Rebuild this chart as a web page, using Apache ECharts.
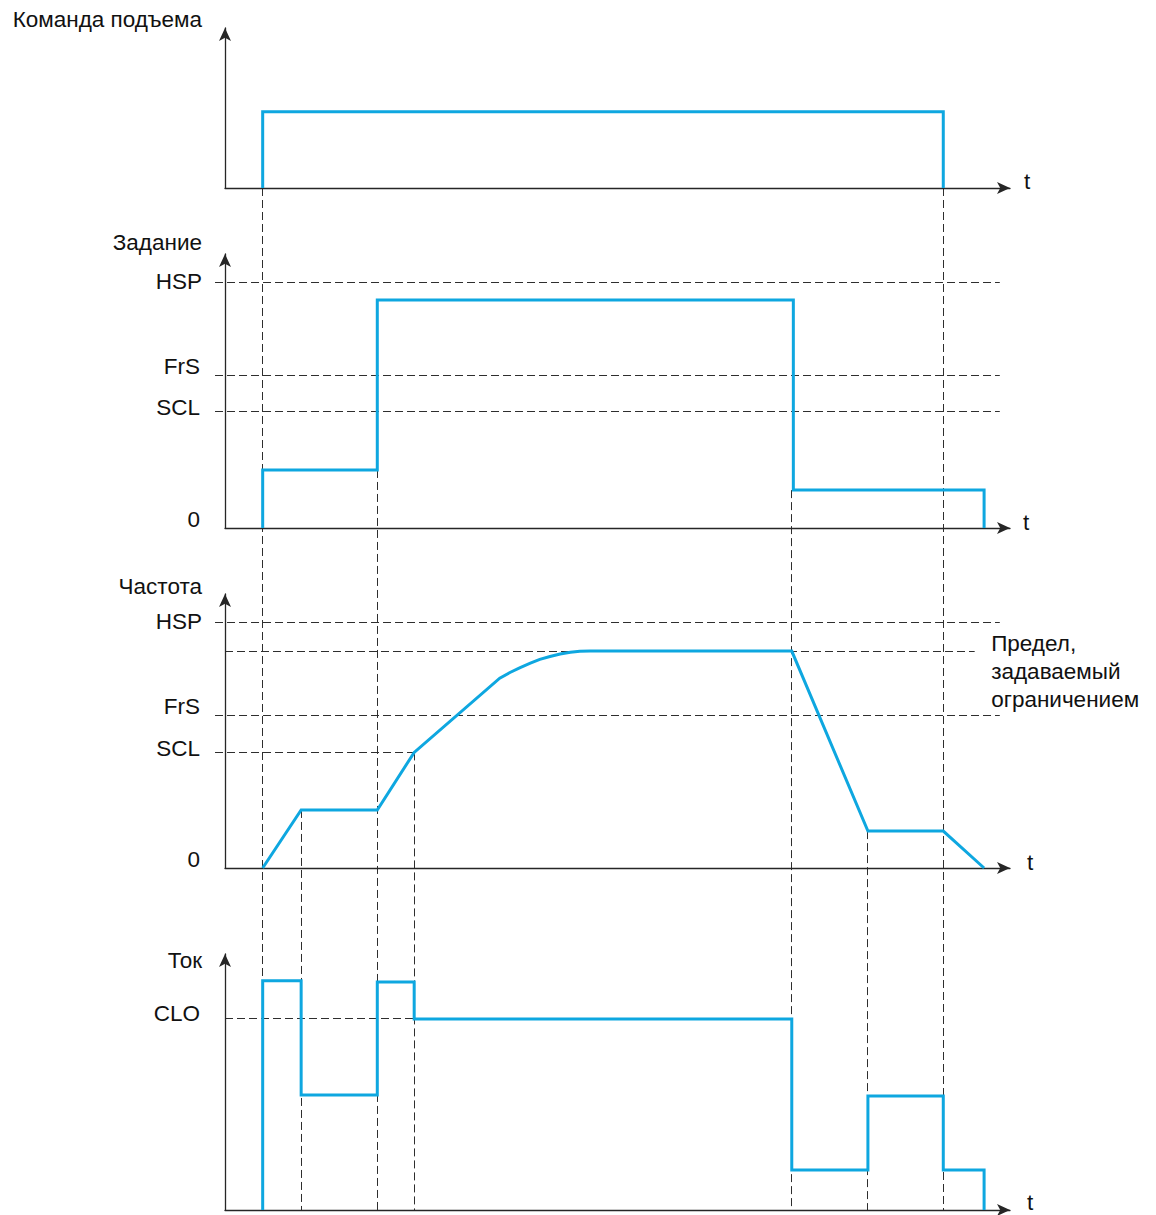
<!DOCTYPE html>
<html><head><meta charset="utf-8">
<script src="https://cdn.jsdelivr.net/npm/echarts@6/dist/echarts.min.js"></script>
<style>html,body{margin:0;padding:0;background:#fff}#chart{width:1156px;height:1215px}</style>
</head><body><div id="chart"></div>
<script>
// ---------- data (time in arbitrary units 0..100, levels in % of HSP / CLO) ----------
const panelTitles = ['Команда подъема', 'Задание', 'Частота', 'Ток'];
const axisEndName = 't';

// Panel 1: lift command
const liftT = [4.8, 4.8, 91.5, 91.5];
const liftV = [0, 1, 1, 0];

// Panel 2: reference
const refLevelNames = ['HSP', 'FrS', 'SCL', '0'];
const refLevelValues = [100, 61.8, 47.2, 0];
const refT = [4.8, 4.8, 19.4, 19.4, 72.4, 72.4, 96.7, 96.7];
const refV = [0, 23.6, 23.6, 92.7, 92.7, 15.4, 15.4, 0];

// Panel 3: frequency
const freqLevelNames = ['HSP', 'FrS', 'SCL', '0'];
const freqLevelValues = [100, 61.8, 47, 0];
const limitValue = 88.2;
const limitText = ['Предел,', 'задаваемый', 'ограничением'];
const freqT = [4.8, 9.7, 19.4, 24.1, 35.0, 36.3, 37.6, 38.9, 40.1, 41.4, 42.7, 44.0, 45.2, 46.5, 72.2, 81.9, 91.5, 96.7];
const freqV = [0, 23.6, 23.6, 47, 77.2, 79.5, 81.5, 83.3, 84.8, 86.0, 87.0, 87.7, 88.1, 88.2, 88.2, 15.0, 15.0, 0];

// Panel 4: current
const currLevelNames = ['CLO'];
const currLevelValues = [100];
const currT = [4.8, 4.8, 9.7, 9.7, 19.4, 19.4, 24.1, 24.1, 72.2, 72.2, 81.9, 81.9, 91.5, 91.5, 96.7, 96.7];
const currV = [0, 120, 120, 60.2, 60.2, 119.4, 119.4, 100, 100, 20.9, 20.9, 59.7, 59.7, 20.9, 20.9, 0];

// vertical guide lines: time, panel where it starts, value where it starts
const guideT = [4.8, 91.5, 19.4, 72.2, 9.7, 24.1, 81.9];
const guidePanel = [0, 0, 1, 1, 2, 2, 2];
const guideV = [0, 0, 23.6, 15.4, 23.6, 47, 15.0];

// horizontal guide lines: panel, value, start time, end time
const hPanel = [1, 1, 1, 2, 2, 2, 2, 3];
const hValue = [100, 61.8, 47.2, 100, 88.2, 61.8, 47, 100];
const hStart = [-1.27, -1.27, -1.27, -1.27, 0, -1.27, -1.27, 0];
const hEnd = [98.7, 98.7, 98.7, 98.7, 95.5, 98.7, 24.1, 72.2];

// ---------- layout / style ----------
const BLUE = '#0ea7e0';
const AX = '#262626';
const DASH = '#2e2e2e';
const FONT = '"Liberation Sans", Arial, Helvetica, sans-serif';
const FS = 22.5;
const grids = [
  {left: 225, right: 146, top: 28, bottom: 1027},
  {left: 225, right: 146, top: 254, bottom: 687},
  {left: 225, right: 146, top: 594, bottom: 347},
  {left: 225, right: 146, top: 954, bottom: 5}
];
const yMax = [2.1, 111.4, 111.4, 134];

const chart = echarts.init(document.getElementById('chart'), null, {renderer: 'svg'});

function zip(t, v) { return t.map((x, i) => [x, v[i]]); }

const xAxes = grids.map((g, i) => ({
  type: 'value', gridIndex: i, min: 0, max: 100,
  axisLine: {show: true, onZero: false, symbol: ['none', 'arrow'], symbolSize: [9, 13], lineStyle: {color: AX, width: 1.3}},
  axisTick: {show: false}, axisLabel: {show: false}, splitLine: {show: false}
}));
const yAxes = grids.map((g, i) => ({
  type: 'value', gridIndex: i, min: 0, max: yMax[i],
  axisLine: {show: true, onZero: false, symbol: ['none', 'arrow'], symbolSize: [9, 13], lineStyle: {color: AX, width: 1.3}},
  axisTick: {show: false}, axisLabel: {show: false}, splitLine: {show: false}
}));

function sigSeries(idx, t, v) {
  return {
    type: 'line', xAxisIndex: idx, yAxisIndex: idx, data: zip(t, v),
    symbol: 'none', clip: false, silent: true, z: 5,
    lineStyle: {color: BLUE, width: 3, join: 'miter', cap: 'butt'}
  };
}

const series = [
  sigSeries(0, liftT, liftV),
  sigSeries(1, refT, refV),
  sigSeries(2, freqT, freqV),
  sigSeries(3, currT, currV)
];

chart.setOption({
  animation: false,
  backgroundColor: '#fff',
  grid: grids,
  xAxis: xAxes,
  yAxis: yAxes,
  series: series
});

// ---------- annotations positioned through the axes ----------
const P = (i, t, v) => chart.convertToPixel({gridIndex: i}, [t, v]);
const crisp = (c) => Math.round(c - 0.5) + 0.5;
const graphics = [];
function text(x, y, s, align) {
  graphics.push({
    type: 'text', silent: true, z: 10,
    style: {x: x, y: y, text: s, fill: '#111', font: FS + 'px ' + FONT,
      align: align, verticalAlign: 'middle', textAlign: align, textVerticalAlign: 'middle'}
  });
}
function dashLine(a, b, vertical) {
  const x1 = vertical ? crisp(a[0]) : a[0], x2 = vertical ? crisp(b[0]) : b[0];
  const y1 = vertical ? a[1] : crisp(a[1]), y2 = vertical ? b[1] : crisp(b[1]);
  graphics.push({type: 'line', silent: true, z: 0,
    shape: {x1: x1, y1: y1, x2: x2, y2: y2},
    style: {stroke: DASH, lineWidth: 1, lineDash: [8, 4]}});
}
// vertical dashed guides
guideT.forEach((t, k) => dashLine(P(guidePanel[k], t, guideV[k]), P(3, t, 0), true));
// horizontal dashed guides
hPanel.forEach((g, k) => dashLine(P(g, hStart[k], hValue[k]), P(g, hEnd[k], hValue[k]), false));
// panel titles (near axis arrow tip)
const titleOffsets = [-9, -12, -8, 6];
panelTitles.forEach((s, i) => {
  const p = P(i, 0, yMax[i]);
  text(202, p[1] + titleOffsets[i], s, 'right');
});
// level labels
const lvlOffset = {HSP: -1, FrS: -9, SCL: -4, '0': -9, CLO: -5};
refLevelNames.forEach((s, k) => { const p = P(1, 0, refLevelValues[k]); text(s === 'HSP' ? 202 : 200, p[1] + lvlOffset[s], s, 'right'); });
freqLevelNames.forEach((s, k) => { const p = P(2, 0, freqLevelValues[k]); text(s === 'HSP' ? 202 : 200, p[1] + lvlOffset[s], s, 'right'); });
currLevelNames.forEach((s, k) => { const p = P(3, 0, currLevelValues[k]); text(200, p[1] + lvlOffset[s], s, 'right'); });
// 't' at the end of each time axis
const tX = [1024, 1023, 1027, 1027];
const tOff = [-7, -6, -6, -8];
[0, 1, 2, 3].forEach(i => { const p = P(i, 100, 0); text(tX[i], p[1] + tOff[i], axisEndName, 'left'); });
// limit text
const lp = P(2, 97.6, limitValue);
limitText.forEach((s, k) => text(lp[0], lp[1] - 8 + k * 28, s, 'left'));

chart.setOption({graphic: graphics});
</script>
</body></html>
